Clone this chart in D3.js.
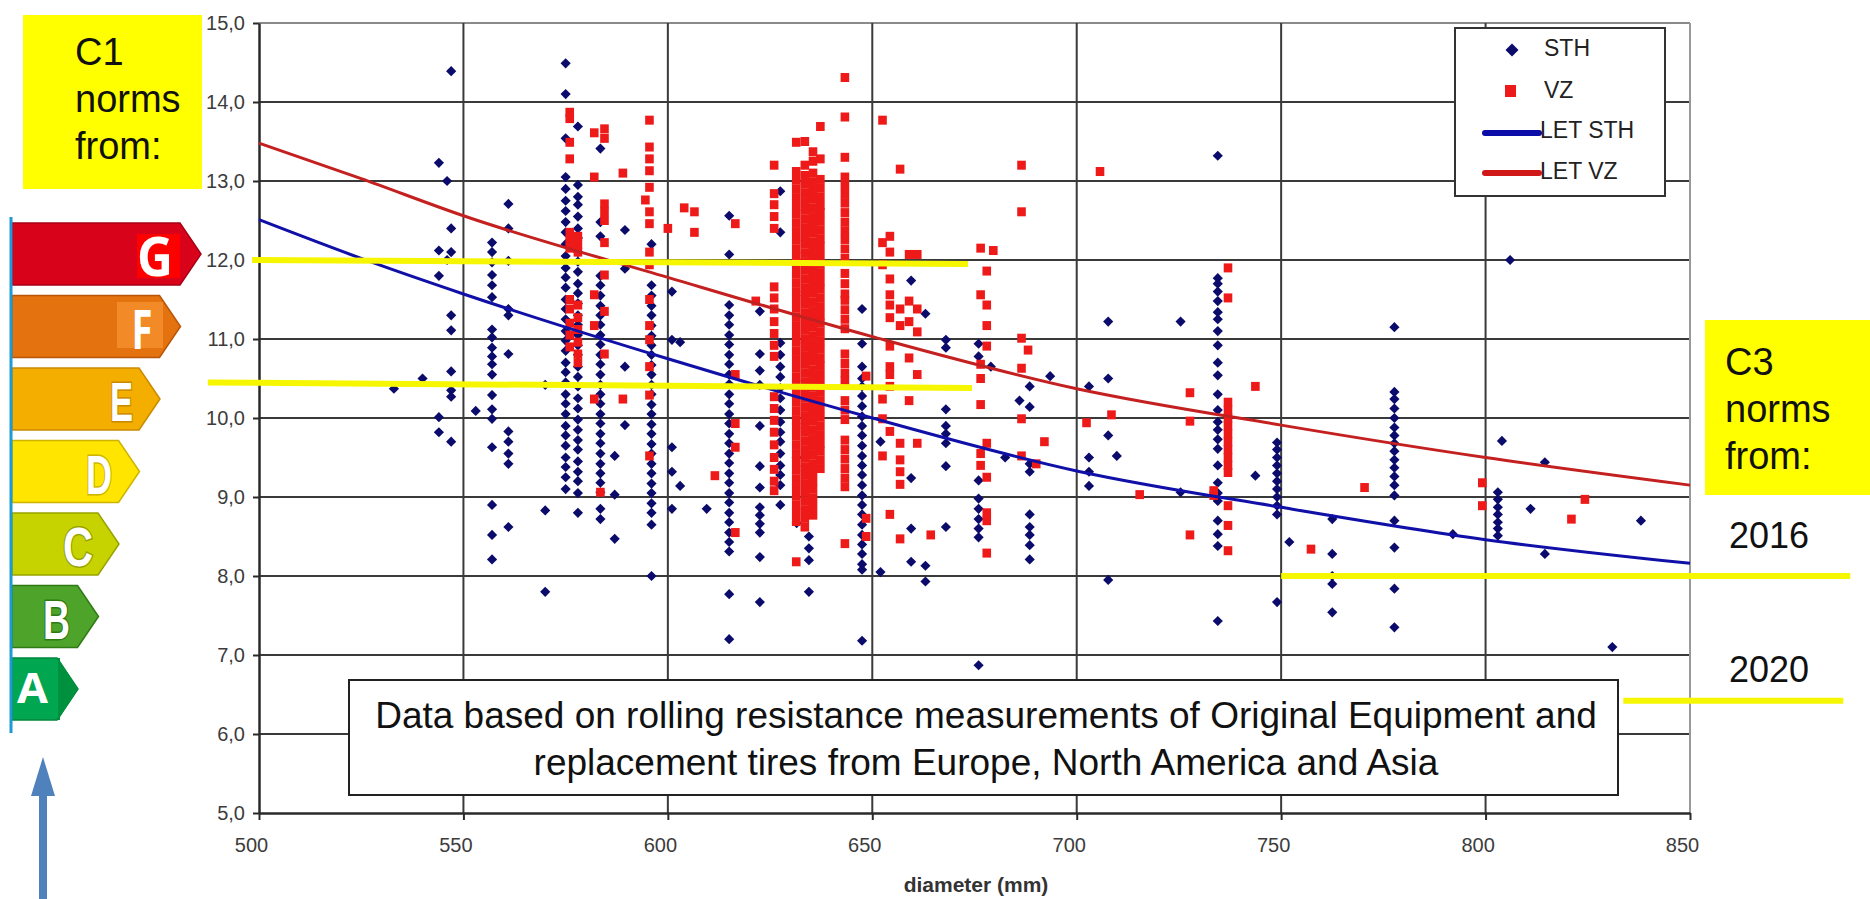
<!DOCTYPE html>
<html>
<head>
<meta charset="utf-8">
<script src="https://cdnjs.cloudflare.com/ajax/libs/d3/7.8.5/d3.min.js"></script>
<style>
    body { margin: 0; background: #fff; }
    svg { display: block; font-family: "Liberation Sans", Arial, sans-serif; }
</style>
</head>
<body>
<script>
var width = 1870,
    height = 899;

// axes
var xTicks = [500, 550, 600, 650, 700, 750, 800, 850];
var yTicks = [5, 6, 7, 8, 9, 10, 11, 12, 13, 14, 15];

// trend lines at these diameters
var letDiam = [500, 525, 550, 600, 650, 700, 750, 800, 850];
var letSth = [12.51, 12.02, 11.57, 10.75, 10.0, 9.33, 8.87, 8.46, 8.16];
var letVz = [13.48, 13.03, 12.56, 11.78, 11.03, 10.37, 9.91, 9.5, 9.15];

// measurements, grouped by diameter: [diameter, [rolling resistance values]]
var sthColumns = [
    [533, [10.37]],
    [540, [10.5]],
    [544, [13.23, 12.12, 11.8, 10.01, 9.82]],
    [546, [13.0, 12.0]],
    [547, [14.39, 12.4, 12.1, 11.3, 11.11, 10.59, 10.35, 10.27, 9.7]],
    [553, [10.09]],
    [557, [12.22, 12.1, 11.97, 11.81, 11.68, 11.53, 11.12, 11.02, 10.89, 10.78, 10.68, 10.55, 10.29, 10.11, 9.99, 9.63, 8.9, 8.52, 8.21]],
    [561, [12.71, 12.4, 11.99, 11.38, 11.3, 10.81, 9.83, 9.7, 9.55, 9.42, 8.62]],
    [570, [10.42, 8.83, 7.8]],
    [575, [14.49, 14.1, 13.54, 13.05, 12.9, 12.75, 12.62, 12.48, 12.35, 12.2, 12.05, 11.9, 11.78, 11.65, 11.5, 11.38, 11.25, 11.1, 10.98, 10.85, 10.7, 10.58, 10.45, 10.3, 10.18, 10.05, 9.9, 9.78, 9.65, 9.5, 9.38, 9.25, 9.1]],
    [578, [13.69, 12.95, 12.8, 12.7, 12.55, 12.4, 12.28, 12.1, 11.98, 11.85, 11.7, 11.58, 11.45, 11.3, 11.18, 11.05, 10.92, 10.8, 10.65, 10.52, 10.4, 10.25, 10.12, 9.98, 9.85, 9.72, 9.6, 9.45, 9.32, 9.2, 9.05, 8.8]],
    [583.5, [13.41, 12.48, 12.3, 11.8, 11.68, 11.55, 11.42, 11.3, 11.18, 11.05, 10.93, 10.8, 10.68, 10.55, 10.42, 10.3, 10.18, 10.05, 9.93, 9.8, 9.68, 9.55, 9.42, 9.3, 9.18, 9.06, 8.85, 8.72]],
    [587, [9.52, 9.03, 8.47]],
    [589.5, [12.38, 11.89, 10.65, 9.91]],
    [596, [12.2, 11.68, 11.55, 11.42, 11.3, 11.17, 11.04, 10.92, 10.8, 10.67, 10.55, 10.42, 10.3, 10.17, 10.05, 9.92, 9.8, 9.67, 9.55, 9.42, 9.3, 9.17, 9.05, 8.92, 8.8, 8.65, 8.0]],
    [601, [11.6, 10.99, 9.63, 9.32, 8.85]],
    [603, [10.96, 9.14]],
    [609.5, [8.85]],
    [615, [12.56, 12.07, 11.43, 11.3, 11.18, 11.05, 10.93, 10.8, 10.68, 10.55, 10.43, 10.3, 10.18, 10.05, 9.93, 9.8, 9.68, 9.55, 9.43, 9.3, 9.18, 9.05, 8.93, 8.8, 8.68, 8.55, 8.43, 8.31, 7.77, 7.2]],
    [622.5, [11.35, 10.81, 10.6, 10.42, 9.9, 9.39, 9.12, 8.87, 8.77, 8.66, 8.55, 8.24, 7.67]],
    [627.5, [12.87, 12.35, 10.95, 10.8, 10.65, 10.52, 10.38, 10.25, 10.1, 9.95, 9.82, 9.7, 9.55, 9.4, 9.28, 9.15, 8.9]],
    [631.5, [9.5, 8.67]],
    [634.5, [8.5, 8.35, 8.2, 7.8]],
    [647.5, [11.38, 10.94, 10.65, 10.5, 10.4, 10.28, 10.15, 10.02, 9.9, 9.78, 9.65, 9.52, 9.4, 9.28, 9.15, 9.02, 8.9, 8.78, 8.65, 8.52, 8.4, 8.28, 8.15, 8.08, 7.18]],
    [652, [9.7, 8.05]],
    [659.5, [11.74, 9.24, 8.6, 8.18]],
    [663, [11.32, 8.13, 7.93]],
    [668, [10.99, 10.89, 10.11, 9.9, 9.8, 9.68, 9.39, 8.62]],
    [676, [10.94, 10.78, 9.21, 8.98, 8.85, 8.72, 8.6, 8.49, 6.87]],
    [679, [10.65]],
    [682.5, [9.5]],
    [686, [10.22]],
    [688.5, [10.4, 10.14, 9.42, 9.32, 8.78, 8.62, 8.52, 8.39, 8.21]],
    [693.5, [10.53]],
    [703, [10.4, 9.5, 9.32, 9.14]],
    [707.7, [11.22, 10.5, 9.78, 7.95]],
    [709.8, [9.52]],
    [725.4, [11.22, 9.06]],
    [734.5, [13.32, 11.77, 11.7, 11.6, 11.48, 11.34, 11.25, 11.1, 10.92, 10.7, 10.54, 10.3, 10.1, 9.95, 9.85, 9.73, 9.61, 9.4, 9.18, 9.05, 8.95, 8.7, 8.53, 8.38, 7.43]],
    [743.7, [9.27]],
    [749, [9.69, 9.6, 9.5, 9.4, 9.3, 9.2, 9.1, 9.0, 8.89, 8.78, 7.67]],
    [752, [8.43]],
    [762.5, [8.72, 8.28, 8.0, 7.9, 7.54]],
    [777.7, [11.15, 10.33, 10.24, 10.12, 10.0, 9.88, 9.78, 9.68, 9.58, 9.47, 9.37, 9.26, 9.15, 9.02, 8.7, 8.36, 7.84, 7.35]],
    [792, [8.53]],
    [803, [9.06, 8.97, 8.87, 8.78, 8.68, 8.6, 8.51]],
    [804, [9.71]],
    [806, [12.0]],
    [811, [8.85]],
    [814.5, [9.44, 8.28]],
    [831, [7.1]],
    [838, [8.7]]
];

var vzColumns = [
    [576, [13.87, 13.79, 13.49, 13.28, 12.35, 12.25, 12.15, 11.5, 11.38, 11.2, 11.05, 10.9]],
    [578, [12.3, 12.2, 12.1, 11.43, 11.27, 11.12, 10.96, 10.81, 10.7]],
    [582, [13.61, 13.05, 11.56, 11.17, 10.24]],
    [583.5, [9.06]],
    [584.5, [13.66, 13.54, 12.71, 12.61, 12.5, 12.22, 11.81, 11.35, 10.81]],
    [589, [13.1, 10.24]],
    [594.5, [12.76]],
    [595.5, [13.77, 13.43, 13.28, 13.13, 12.92, 12.61, 12.46, 12.1, 11.94, 11.5, 11.17, 10.99, 10.65, 10.29, 9.52]],
    [600, [12.4]],
    [604, [12.66]],
    [606.5, [12.61, 12.35]],
    [611.5, [9.27]],
    [616.5, [12.46, 10.55, 9.93, 9.63, 8.55]],
    [621.5, [11.48]],
    [626, [13.2, 12.84, 12.7, 12.55, 12.4, 11.66, 11.52, 11.38, 11.22, 11.07, 10.92, 10.78, 10.27, 10.12, 9.97, 9.82, 9.66, 9.5, 9.35, 9.2, 9.08]],
    [631.4, [13.49, 13.12, 13.01, 12.9, 12.79, 12.68, 12.58, 12.47, 12.36, 12.25, 12.14, 12.04, 11.93, 11.82, 11.71, 11.6, 11.5, 11.39, 11.28, 11.17, 11.06, 10.96, 10.85, 10.74, 10.63, 10.52, 10.42, 10.31, 10.2, 10.09, 9.98, 9.88, 9.77, 9.66, 9.55, 9.44, 9.34, 9.23, 9.12, 9.01, 8.9, 8.8, 8.69, 8.18]],
    [633.5, [13.5, 13.2, 13.07, 12.96, 12.85, 12.74, 12.63, 12.52, 12.41, 12.3, 12.2, 12.09, 11.98, 11.87, 11.76, 11.65, 11.55, 11.44, 11.33, 11.22, 11.11, 11.0, 10.9, 10.79, 10.68, 10.57, 10.46, 10.36, 10.25, 10.14, 10.03, 9.92, 9.82, 9.71, 9.6, 9.49, 9.38, 9.28, 9.17, 9.06, 8.95, 8.84, 8.73, 8.62]],
    [635.5, [13.37, 13.25, 13.1, 12.99, 12.88, 12.77, 12.66, 12.55, 12.44, 12.34, 12.23, 12.12, 12.01, 11.9, 11.8, 11.69, 11.58, 11.47, 11.36, 11.26, 11.15, 11.04, 10.93, 10.82, 10.72, 10.61, 10.5, 10.39, 10.28, 10.18, 10.07, 9.96, 9.85, 9.74, 9.64, 9.53, 9.42, 9.31, 9.2, 9.1, 8.99, 8.88, 8.77]],
    [637.3, [13.69, 13.28, 13.02, 12.91, 12.8, 12.69, 12.6, 12.49, 12.38, 12.27, 12.17, 12.06, 11.95, 11.84, 11.73, 11.63, 11.52, 11.41, 11.3, 11.2, 11.09, 10.98, 10.87, 10.76, 10.66, 10.55, 10.44, 10.33, 10.22, 10.12, 10.01, 9.9, 9.79, 9.68, 9.58, 9.47, 9.36]],
    [643.3, [14.31, 13.81, 13.3, 13.05, 12.94, 12.83, 12.72, 12.6, 12.48, 12.37, 12.26, 12.14, 12.02, 11.83, 11.7, 11.57, 11.49, 11.37, 11.25, 11.13, 10.81, 10.69, 10.57, 10.47, 10.22, 10.1, 9.98, 9.72, 9.6, 9.48, 9.36, 9.24, 9.13, 8.41]],
    [648.5, [10.53, 8.73, 8.5]],
    [652.5, [13.77, 12.22, 11.94, 10.24, 9.99, 9.52]],
    [654.3, [12.3, 12.1, 11.76, 11.56, 11.43, 11.27, 10.91, 10.65, 10.55, 10.4, 9.83, 8.78]],
    [656.8, [13.15, 11.38, 11.17, 9.68, 9.47, 9.32, 9.16, 8.47]],
    [659, [12.07, 11.48, 11.22, 10.76, 10.22]],
    [661, [12.07, 11.38, 11.09, 10.55, 9.68]],
    [664.3, [8.52]],
    [676.5, [12.15, 11.56, 10.68, 10.5, 10.17, 9.55, 9.4]],
    [678, [11.86, 11.43, 11.17, 10.91, 9.68, 9.25, 8.8, 8.7, 8.29]],
    [679.6, [12.12]],
    [686.5, [13.2, 12.61, 11.01, 10.63, 9.99, 9.52]],
    [688.1, [10.86]],
    [690.1, [9.42]],
    [692.1, [9.7]],
    [702.4, [9.94]],
    [705.7, [13.12]],
    [708.5, [10.04]],
    [715.4, [9.03]],
    [727.7, [10.32, 9.96, 8.52]],
    [733.5, [9.08, 9.02]],
    [737, [11.9, 11.52, 10.2, 10.1, 10.0, 9.9, 9.8, 9.7, 9.6, 9.5, 9.4, 9.31, 8.89, 8.64, 8.32]],
    [743.7, [10.4]],
    [757.3, [8.34]],
    [770.4, [9.12]],
    [799.2, [9.18, 8.89]],
    [821, [8.72]],
    [824.3, [8.97]]
];

// tyre label classes, top (worst) to bottom
var classes = ["G", "F", "E", "D", "C", "B", "A"];
var classFill = ["#d9021b", "#e4720e", "#f3ae00", "#ffe500", "#c6d300", "#4ea42a", "#00a650"];
var classEdge = ["#a80015", "#b85508", "#c98a00", "#cdb400", "#98a200", "#2f7a15", "#00853c"];

// norm limits drawn as yellow lines: [value at start, value at end, diameter from, diameter to]
var c1Limits = [[12.0, 11.95, 498.3, 673.4], [10.45, 10.38, 487.5, 674.4]];
var c3Limit2016 = [8.0, 8.0, 750, 889.2];
var c3Limit2020 = [6.42, 6.42, 833.7, 887.5];

var legendItems = ["STH", "VZ", "LET STH", "LET VZ"];
var noteLines = ["Data based on rolling resistance measurements of Original Equipment and",
    "replacement tires from Europe, North America and Asia"];

function flatten(cols) {
    var pts = [];
    cols.forEach(function (c) {
        c[1].forEach(function (v) { pts.push({d: c[0], v: v}); });
    });
    return pts;
}
var sthPts = flatten(sthColumns);
var vzPts = flatten(vzColumns);

var x = d3.scaleLinear().domain([500, 850]).range([259, 1690]);
var y = d3.scaleLinear().domain([5, 15]).range([813, 23]);

var svg = d3.select("body").append("svg")
    .attr("width", width)
    .attr("height", height);

// grid
var grid = svg.append("g").attr("class", "grid");
grid.selectAll("line.h")
    .data(yTicks.filter(function (t) { return t > 5; }))
    .enter().append("line")
    .attr("x1", x(500)).attr("x2", x(850))
    .attr("y1", function (d) { return y(d); })
    .attr("y2", function (d) { return y(d); })
    .attr("stroke", function (d) { return d === 15 ? "#8a8a8a" : "#3a3a3a"; })
    .attr("stroke-width", 2);
grid.selectAll("line.v")
    .data(xTicks.filter(function (t) { return t > 500; }))
    .enter().append("line")
    .attr("y1", y(5)).attr("y2", y(15))
    .attr("x1", function (d) { return x(d); })
    .attr("x2", function (d) { return x(d); })
    .attr("stroke", function (d) { return d === 850 ? "#9a9a9a" : "#3a3a3a"; })
    .attr("stroke-width", 2);

// axes
var fmt = function (d) { return d.toFixed(1).replace(".", ","); };
var yAxis = svg.append("g")
    .attr("transform", "translate(" + x(500) + ",0)")
    .call(d3.axisLeft(y).tickValues(yTicks).tickFormat(fmt).tickSize(6).tickSizeOuter(0).tickPadding(8));
var xAxis = svg.append("g")
    .attr("transform", "translate(0," + y(5) + ")")
    .call(d3.axisBottom(x).tickValues(xTicks).tickFormat(d3.format("d")).tickSize(7).tickSizeOuter(0).tickPadding(18));
[yAxis, xAxis].forEach(function (ax) {
    ax.select(".domain").attr("stroke", "#2a2a2a").attr("stroke-width", 2.5);
    ax.selectAll(".tick line").attr("stroke", "#2a2a2a").attr("stroke-width", 2);
    ax.selectAll(".tick text")
        .attr("fill", "#3c3c3c")
        .style("font-family", "'Liberation Sans', Arial, sans-serif")
        .style("font-size", "20px");
});
xAxis.selectAll(".tick text").attr("dx", -8);

svg.append("text")
    .attr("x", 976).attr("y", 892)
    .attr("text-anchor", "middle")
    .attr("font-size", 21)
    .attr("font-weight", "bold")
    .attr("fill", "#333")
    .text("diameter (mm)");

// points
svg.append("g").selectAll("rect")
    .data(sthPts)
    .enter().append("rect")
    .attr("x", -3.6).attr("y", -3.6)
    .attr("width", 7.2).attr("height", 7.2)
    .attr("transform", function (d) { return "translate(" + x(d.d) + "," + y(d.v) + ") rotate(45)"; })
    .attr("fill", "#0b0b6c");

svg.append("g").selectAll("rect")
    .data(vzPts)
    .enter().append("rect")
    .attr("x", function (d) { return x(d.d) - 4.3; })
    .attr("y", function (d) { return y(d.v) - 4.5; })
    .attr("width", 8.6).attr("height", 9)
    .attr("fill", "#ee1a1a");

// trend lines
var line = d3.line()
    .x(function (d) { return x(d[0]); })
    .y(function (d) { return y(d[1]); })
    .curve(d3.curveMonotoneX);
svg.append("path")
    .attr("d", line(d3.zip(letDiam, letSth)))
    .attr("fill", "none").attr("stroke", "#1010a8").attr("stroke-width", 3);
svg.append("path")
    .attr("d", line(d3.zip(letDiam, letVz)))
    .attr("fill", "none").attr("stroke", "#c42020").attr("stroke-width", 3);

// yellow norm lines
function limitLine(l) {
    svg.append("line")
        .attr("x1", x(l[2])).attr("x2", x(l[3]))
        .attr("y1", y(l[0])).attr("y2", y(l[1]))
        .attr("stroke", "#f6f600").attr("stroke-width", 6);
}
c1Limits.forEach(limitLine);
limitLine(c3Limit2016);

// note box
svg.append("rect")
    .attr("x", 349).attr("y", 680).attr("width", 1269).attr("height", 115)
    .attr("fill", "#fff").attr("stroke", "#222").attr("stroke-width", 2);
svg.append("g").selectAll("text")
    .data(noteLines)
    .enter().append("text")
    .attr("x", 986)
    .attr("y", function (d, i) { return 728 + i * 47; })
    .attr("text-anchor", "middle")
    .attr("font-size", 37)
    .attr("fill", "#111")
    .text(function (d) { return d; });

limitLine(c3Limit2020);

// legend
var lg = svg.append("g").attr("transform", "translate(1455,28)");
lg.append("rect")
    .attr("width", 210).attr("height", 168)
    .attr("fill", "#fff").attr("stroke", "#333").attr("stroke-width", 2);
lg.append("rect")
    .attr("x", -4.6).attr("y", -4.6).attr("width", 9.2).attr("height", 9.2)
    .attr("transform", "translate(57,22) rotate(45)")
    .attr("fill", "#0b0b6c");
lg.append("rect")
    .attr("x", 50).attr("y", 57).attr("width", 11).attr("height", 12)
    .attr("fill", "#ee1a1a");
lg.append("line")
    .attr("x1", 30).attr("x2", 84).attr("y1", 105).attr("y2", 105)
    .attr("stroke", "#0c0ca8").attr("stroke-width", 6).attr("stroke-linecap", "round");
lg.append("line")
    .attr("x1", 30).attr("x2", 84).attr("y1", 145).attr("y2", 145)
    .attr("stroke", "#d01818").attr("stroke-width", 6).attr("stroke-linecap", "round");
lg.selectAll("text")
    .data(legendItems)
    .enter().append("text")
    .attr("x", function (d, i) { return i < 2 ? 89 : 85; })
    .attr("y", function (d, i) { return [28, 70, 110, 151][i]; })
    .attr("font-size", 23)
    .attr("fill", "#222")
    .text(function (d) { return d; });

// C1 label box
svg.append("rect")
    .attr("x", 23).attr("y", 15).attr("width", 179).attr("height", 174)
    .attr("fill", "#ffff00");
svg.append("g").selectAll("text")
    .data(["C1", "norms", "from:"])
    .enter().append("text")
    .attr("x", 75)
    .attr("y", function (d, i) { return 65 + i * 47; })
    .attr("font-size", 38)
    .attr("fill", "#111")
    .text(function (d) { return d; });

// C3 label box
svg.append("rect")
    .attr("x", 1705).attr("y", 320).attr("width", 165).attr("height", 175)
    .attr("fill", "#ffff00");
svg.append("g").selectAll("text")
    .data(["C3", "norms", "from:"])
    .enter().append("text")
    .attr("x", 1725)
    .attr("y", function (d, i) { return 375 + i * 47; })
    .attr("font-size", 38)
    .attr("fill", "#111")
    .text(function (d) { return d; });
svg.append("g").selectAll("text")
    .data(["2016", "2020"])
    .enter().append("text")
    .attr("x", 1729)
    .attr("y", function (d, i) { return i ? 682 : 548; })
    .attr("font-size", 36)
    .attr("fill", "#111")
    .text(function (d) { return d; });

// energy label arrows
var arrows = svg.append("g");
classes.forEach(function (c, i) {
    var top = 223 + i * 72.5,
        h = 62,
        corner = 180 - i * 20.5,
        tip = corner + 21;
    var p = "M12 " + top + " L" + corner + " " + top + " L" + tip + " " + (top + h / 2) +
        " L" + corner + " " + (top + h) + " L12 " + (top + h) + " Z";
    arrows.append("path")
        .attr("d", p)
        .attr("fill", classFill[i])
        .attr("stroke", classEdge[i])
        .attr("stroke-width", 1.5);
});
// tip of A is a darker shade
arrows.append("path")
    .attr("d", "M60 " + (223 + 6 * 72.5) + " L57 " + (223 + 6 * 72.5) + " L78 " + (223 + 6 * 72.5 + 31) +
        " L57 " + (223 + 6 * 72.5 + 62) + " L60 " + (223 + 6 * 72.5 + 62) + " Z")
    .attr("fill", "#00913f");
arrows.append("path")
    .attr("d", "M58 " + (223 + 6 * 72.5) + " L78 " + (223 + 6 * 72.5 + 31) + " L58 " + (223 + 6 * 72.5 + 62) + " Z")
    .attr("fill", "#00913f");

// letter patches behind G and F
arrows.append("rect").attr("x", 137).attr("y", 234).attr("width", 43).attr("height", 44).attr("fill", "#ff0000");
arrows.append("rect").attr("x", 117).attr("y", 302).attr("width", 46).attr("height", 46).attr("fill", "#f18a27");

var letterCx = [155, 142, 121.5, 99, 78, 56.5, 32.5];
var letterW = [36, 21, 23, 26, 30, 27, 31];
classes.forEach(function (c, i) {
    var base = 223 + i * 72.5 + (i === 6 ? 45 : 53);
    var t = arrows.append("text")
        .attr("x", letterCx[i] - letterW[i] / 2)
        .attr("y", base)
        .attr("textLength", letterW[i])
        .attr("lengthAdjust", "spacingAndGlyphs")
        .attr("fill", "#fff")
        .attr("font-weight", "bold")
        .text(c);
    if (i === 0 || i === 1 || i === 6) {
        t.attr("font-family", "'Open Sans', sans-serif")
            .attr("font-size", i === 6 ? 42 : 53);
    } else {
        t.attr("font-family", "'Liberation Sans', Arial, sans-serif")
            .attr("font-size", 55)
            .attr("stroke", classEdge[i])
            .attr("stroke-width", 3)
            .attr("paint-order", "stroke");
    }
});

// scale bar on the left
svg.append("line")
    .attr("x1", 11).attr("x2", 11).attr("y1", 217).attr("y2", 733)
    .attr("stroke", "#1d9bd6").attr("stroke-width", 3);

// blue arrow below
svg.append("rect")
    .attr("x", 39).attr("y", 795).attr("width", 8).attr("height", 104)
    .attr("fill", "#4f81bd");
svg.append("path")
    .attr("d", "M31 796 L43 757 L55 796 Z")
    .attr("fill", "#4f81bd");
</script>
</body>
</html>
